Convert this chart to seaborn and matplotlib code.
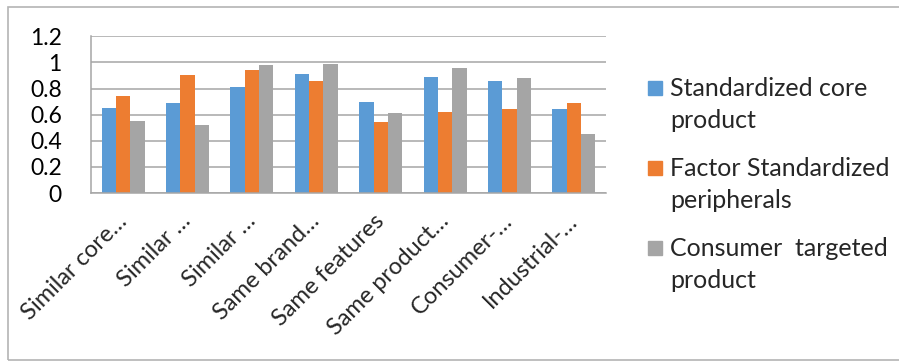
import numpy as np
import pandas as pd
import matplotlib
matplotlib.use("Agg")
import matplotlib.pyplot as plt
from matplotlib.patches import Rectangle
import seaborn as sns

categories = ["Similar core…", "Similar …", "Similar …", "Same brand…",
              "Same features", "Same product…", "Consumer-…", "Industrial-…"]
series_names = ["Standardized core\nproduct", "Factor Standardized\nperipherals",
                "Consumer  targeted\nproduct"]
standardized_core = [0.65, 0.69, 0.81, 0.91, 0.70, 0.89, 0.86, 0.64]
factor_peripherals = [0.74, 0.90, 0.94, 0.86, 0.54, 0.62, 0.64, 0.69]
consumer_targeted = [0.55, 0.52, 0.98, 0.99, 0.61, 0.96, 0.88, 0.45]
y_ticks = [0, 0.2, 0.4, 0.6, 0.8, 1.0, 1.2]
y_tick_labels = ["0", "0.2", "0.4", "0.6", "0.8", "1", "1.2"]

colors = ["#5B9BD5", "#ED7D31", "#A5A5A5"]

sns.set_style("white")
plt.rcParams["font.family"] = ["Lato", "DejaVu Sans"]

rows = []
for s, vals in zip(series_names, [standardized_core, factor_peripherals, consumer_targeted]):
    for i, v in enumerate(vals):
        rows.append({"pos": i, "series": s, "value": v})
df = pd.DataFrame(rows)

W, H = 899, 361
fig = plt.figure(figsize=(W / 100, H / 100), dpi=100)
ax = fig.add_axes([91 / W, 1 - 193 / H, (606 - 91) / W, (193 - 36.3) / H])

sns.barplot(data=df, x="pos", y="value", hue="series", hue_order=series_names,
            palette=colors, width=0.667, gap=0, saturation=1, legend=False,
            linewidth=0, ax=ax)

ax.set_xlim(-0.5, len(categories) - 0.5)
ax.set_ylim(0, 1.2)
ax.set_xlabel("")
ax.set_ylabel("")

gcol = "#a6a6a6"
ax.set_yticks(y_ticks)
ax.set_yticklabels(y_tick_labels, fontsize=16.5, color="#000000")
ax.yaxis.grid(True, color=gcol, lw=1.1)
ax.set_axisbelow(True)
ax.tick_params(axis="y", length=9, width=1, color=gcol, pad=12)

ax.set_xticks(range(len(categories)))
ax.set_xticklabels(categories, rotation=45, ha="right", va="center",
                   rotation_mode="anchor", fontsize=17)
ax.tick_params(axis="x", which="major", length=0, pad=18)
ax.set_xticks(np.arange(-0.5, len(categories), 1), minor=True)
ax.tick_params(axis="x", which="minor", length=9, width=1, color=gcol, direction="out")

for side in ["top", "right"]:
    ax.spines[side].set_visible(False)
for side in ["left", "bottom"]:
    ax.spines[side].set_color(gcol)
    ax.spines[side].set_linewidth(1.1)

# legend (manual, squares aligned with first line)
sq_top = [81, 161, 241]
txt_top = [77, 157, 237]
for name, c, st, tt in zip(series_names, colors, sq_top, txt_top):
    fig.patches.append(Rectangle((648 / W, 1 - (st + 14) / H), 14 / W, 14 / H,
                                 transform=fig.transFigure, color=c))
    fig.text(670 / W, 1 - tt / H, name, fontsize=18, va="top", ha="left",
             linespacing=1.45)

# outer border
fig.patches.append(Rectangle((8 / W, 1 - 360 / H), 1.0, 353 / H,
                             transform=fig.transFigure, fill=False,
                             ec="#b4b4b4", lw=1.2))

fig.savefig("out.png", dpi=100)
